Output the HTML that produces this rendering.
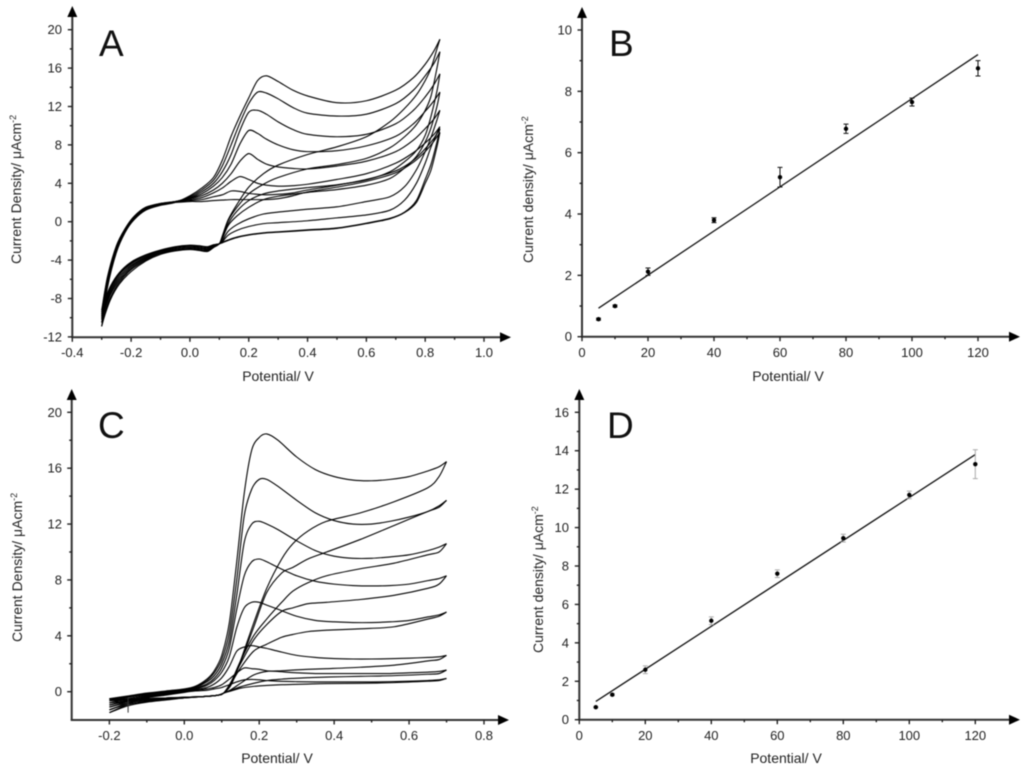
<!DOCTYPE html>
<html>
<head>
<meta charset="utf-8">
<title>Cyclic voltammetry panels</title>
<style>
html,body{margin:0;padding:0;background:#fff;}
svg{display:block;filter:blur(0.4px);}
text{font-family:"Liberation Sans",sans-serif;fill:#222;}
.tick{font-size:13px;}
.axis-label{font-size:14px;}
.panel-letter{font-size:37px;fill:#111;}
</style>
</head>
<body>
<svg id="figure" width="1024" height="770" viewBox="0 0 1024 770" xmlns="http://www.w3.org/2000/svg">
  <rect width="1024" height="770" fill="#fff"/>
  <text class="panel-letter" x="99" y="56">A</text>
  <text class="panel-letter" x="609" y="56">B</text>
  <text class="panel-letter" x="98" y="438">C</text>
  <text class="panel-letter" x="607" y="438">D</text>

  <text class="axis-label" x="278" y="381" text-anchor="middle">Potential/ V</text>
  <text class="axis-label" x="788" y="381" text-anchor="middle">Potential/ V</text>
  <text class="axis-label" x="277" y="763" text-anchor="middle">Potential/ V</text>
  <text class="axis-label" x="786" y="763" text-anchor="middle">Potential/ V</text>

  <text class="axis-label" transform="translate(21,264) rotate(-90)">Current Density/ &#956;Acm<tspan dy="-5" font-size="9">-2</tspan></text>
  <text class="axis-label" transform="translate(533,263) rotate(-90)">Current density/ &#956;Acm<tspan dy="-5" font-size="9">-2</tspan></text>
  <text class="axis-label" transform="translate(22,642) rotate(-90)">Current Density/ &#956;Acm<tspan dy="-5" font-size="9">-2</tspan></text>
  <text class="axis-label" transform="translate(543,653) rotate(-90)">Current density/ &#956;Acm<tspan dy="-5" font-size="9">-2</tspan></text>
</svg>
<script>
/* ---------- Panel A data ---------- */
const aXTickLabels = ["-0.4","-0.2","0.0","0.2","0.4","0.6","0.8","1.0"];
const aYTickLabels = ["-12","-8","-4","0","4","8","12","16","20"];
const aForwardPotential = [-0.3,-0.28,-0.25,-0.22,-0.19,-0.15,-0.1,-0.05,0,0.04,0.08,0.11,0.14,0.17,0.2,0.23,0.26,0.3,0.35,0.4,0.5,0.6,0.7,0.76,0.8,0.83,0.85];
const aForwardCurrent = [
  [-10.9,-6.8,-3.2,-1.1,0.2,1.2,1.7,2.0,2.7,3.5,4.6,6.4,8.9,11.0,12.9,14.7,15.2,14.6,13.7,13.1,12.4,12.6,13.7,15.0,16.4,17.8,19.0],
  [-10.5,-6.6,-3.1,-1.0,0.25,1.25,1.75,2.05,2.6,3.3,4.3,5.8,8.0,10.3,12.3,13.5,13.4,12.8,11.9,11.3,11.0,11.2,12.3,13.7,15.2,16.5,17.7],
  [-10.2,-6.4,-3.0,-0.95,0.3,1.3,1.8,2.1,2.5,3.1,4.0,5.2,7.0,9.5,11.4,11.6,11.2,10.4,9.6,9.1,8.85,9.1,10.2,11.6,13,14.3,15.4],
  [-10,-6.2,-2.9,-0.9,0.35,1.35,1.85,2.1,2.45,2.9,3.7,4.6,6.0,8.1,9.5,9.2,8.6,8.0,7.5,7.3,7.4,7.9,8.9,10.2,11.5,12.6,13.5],
  [-9.8,-6.0,-2.8,-0.85,0.4,1.4,1.85,2.1,2.4,2.7,3.3,4.0,5.0,6.3,7.1,6.5,6.0,5.7,5.55,5.5,5.8,6.3,7.3,8.5,9.7,10.7,11.6],
  [-9.6,-5.9,-2.7,-0.8,0.45,1.45,1.9,2.1,2.3,2.5,3.0,3.5,4.2,4.7,4.4,4.0,3.8,3.7,3.75,3.9,4.4,5.0,6.1,7.2,8.2,9.1,9.9],
  [-9.4,-5.8,-2.6,-0.75,0.5,1.5,1.9,2.05,2.2,2.3,2.6,2.8,3.2,3.15,2.95,2.85,2.8,2.85,3.0,3.3,3.8,4.4,5.3,6.4,7.6,8.7,9.7],
  [-9.2,-5.7,-2.5,-0.7,0.55,1.5,1.85,2.0,2.1,2.1,2.2,2.25,2.3,2.3,2.3,2.3,2.3,2.4,2.7,3.1,3.6,4.2,5.1,6.2,7.3,8.4,9.3]
];
const aReversePotential = [0.85,0.84,0.82,0.8,0.77,0.73,0.68,0.6,0.5,0.4,0.3,0.25,0.2,0.16,0.13,0.11,0.1,0.08,0.06,0.03,0,-0.05,-0.1,-0.15,-0.2,-0.24,-0.27,-0.29,-0.3];
const aReverseCurrent = [
  [19,18,16,14.7,13.2,11.8,10.4,8.85,7.8,7.0,5.9,5.0,3.6,1.8,0.2,-1.5,-2.3,-2.7,-3.1,-3.0,-2.9,-3.05,-3.4,-4.1,-5.2,-6.5,-8.1,-9.8,-10.9],
  [17.7,16,13.1,11.6,10.1,8.85,7.7,6.6,5.95,5.5,4.6,3.9,2.9,1.5,0.1,-1.6,-2.3,-2.65,-3.05,-2.95,-2.85,-3.0,-3.3,-4.0,-5.0,-6.3,-7.9,-9.5,-10.5],
  [15.4,13.6,11,9,7.4,6.25,5.2,4.35,3.85,3.55,3.2,2.9,2.2,1.1,-0.2,-1.7,-2.3,-2.6,-3.0,-2.9,-2.8,-2.95,-3.25,-3.9,-4.85,-6.1,-7.6,-9.2,-10.2],
  [13.5,12,9.8,8.3,6.8,5.6,4.5,3.8,3.35,3.05,2.65,2.3,1.5,0.6,-0.4,-1.8,-2.3,-2.55,-2.9,-2.8,-2.7,-2.85,-3.2,-3.8,-4.7,-5.9,-7.4,-9,-10],
  [11.6,10.6,8.8,7.3,5.4,3.65,2.6,2.1,1.55,1.3,1.0,0.8,0.3,-0.3,-1,-2,-2.3,-2.5,-2.85,-2.75,-2.65,-2.8,-3.1,-3.7,-4.55,-5.7,-7.2,-8.8,-9.8],
  [9.9,9.2,7.8,6.1,4,2.25,1.2,0.7,0.4,0.1,-0.1,-0.2,-0.5,-0.9,-1.4,-2.1,-2.3,-2.45,-2.75,-2.65,-2.55,-2.7,-3.05,-3.6,-4.4,-5.5,-7,-8.6,-9.6],
  [9.7,8.3,6,4.4,2.2,1,0.35,-0.15,-0.65,-0.85,-1.05,-1.15,-1.35,-1.6,-1.9,-2.15,-2.3,-2.42,-2.65,-2.55,-2.5,-2.65,-3.0,-3.5,-4.3,-5.4,-6.8,-8.4,-9.4],
  [9.3,7.8,5.4,4,2,0.95,0.3,-0.2,-0.7,-0.9,-1.1,-1.2,-1.4,-1.65,-1.95,-2.2,-2.3,-2.4,-2.6,-2.5,-2.45,-2.6,-2.95,-3.45,-4.2,-5.3,-6.7,-8.2,-9.2]
];

/* ---------- Panel B data ---------- */
const bXTickLabels = ["0","20","40","60","80","100","120"];
const bYTickLabels = ["0","2","4","6","8","10"];
const bPotential = [5,10,20,40,60,80,100,120];
const bCurrent = [0.57,1.0,2.12,3.8,5.2,6.78,7.65,8.75];
const bError = [0.03,0.03,0.12,0.08,0.32,0.15,0.13,0.25];
const bFitPotential = [5,120];
const bFitCurrent = [0.93,9.2];

/* ---------- Panel C data ---------- */
const cXTickLabels = ["-0.2","0.0","0.2","0.4","0.6","0.8"];
const cYTickLabels = ["0","4","8","12","16","20"];
const cForwardPotential = [-0.2,-0.15,-0.1,-0.05,0,0.03,0.06,0.08,0.1,0.12,0.14,0.16,0.18,0.2,0.22,0.25,0.3,0.35,0.4,0.45,0.5,0.55,0.6,0.65,0.68,0.7];
const cForwardCurrent = [
  [-0.5,-0.3,-0.1,0.05,0.2,0.4,0.9,1.5,2.6,4.9,9.3,14.2,17.3,18.2,18.45,18.0,16.8,15.9,15.4,15.15,15.1,15.2,15.4,15.8,16.1,16.47],
  [-0.55,-0.35,-0.15,0,0.15,0.35,0.8,1.35,2.3,4.2,8,12.6,14.5,15.2,15.2,14.7,13.7,12.8,12.25,12,12,12.2,12.5,12.9,13.3,13.7],
  [-0.65,-0.4,-0.2,-0.05,0.1,0.3,0.7,1.15,2,3.6,6.9,10.7,12,12.2,12,11.6,10.8,10.1,9.7,9.55,9.55,9.65,9.8,10.1,10.35,10.6],
  [-0.8,-0.5,-0.25,-0.1,0.1,0.25,0.55,0.95,1.7,3.1,5.9,8.3,9.3,9.5,9.3,8.9,8.3,7.9,7.7,7.6,7.57,7.6,7.7,7.95,8.1,8.3],
  [-0.95,-0.6,-0.3,-0.1,0.05,0.2,0.45,0.8,1.4,2.5,4.6,6,6.4,6.4,6.2,5.9,5.4,5.1,5,4.95,4.95,5,5.1,5.35,5.5,5.7],
  [-1.1,-0.7,-0.35,-0.15,0,0.15,0.3,0.55,1,1.8,2.9,3.2,3.3,3.2,3.1,2.9,2.6,2.45,2.37,2.34,2.34,2.36,2.4,2.45,2.5,2.6],
  [-1.3,-0.8,-0.4,-0.2,0,0.1,0.2,0.3,0.5,0.9,1.35,1.7,1.65,1.6,1.5,1.45,1.35,1.3,1.3,1.3,1.3,1.3,1.35,1.4,1.45,1.55],
  [-1.5,-0.9,-0.45,-0.25,-0.05,0.05,0.1,0.2,0.3,0.5,0.7,0.85,0.88,0.85,0.8,0.75,0.72,0.7,0.7,0.7,0.7,0.72,0.75,0.8,0.85,0.95]
];
const cReversePotential = [0.7,0.68,0.65,0.56,0.47,0.38,0.33,0.29,0.26,0.22,0.185,0.15,0.125,0.105,0.09,0.05,0,-0.05,-0.1,-0.15,-0.2];
const cReverseCurrent = [
  [16.47,15.4,14.6,13.6,12.8,12.2,11.5,10.6,9.5,7.4,4.9,2.2,0.5,-0.1,-0.25,-0.35,-0.4,-0.45,-0.5,-0.5,-0.5],
  [13.7,13.2,12.9,11.9,10.9,10,9.5,8.9,8.5,7.1,4.6,2.1,0.5,-0.1,-0.25,-0.35,-0.4,-0.45,-0.5,-0.55,-0.55],
  [10.6,10,9.8,9.2,8.8,8.3,7.8,7.2,6.4,5.2,4,2.2,0.7,-0.1,-0.25,-0.35,-0.4,-0.45,-0.5,-0.6,-0.65],
  [8.3,7.7,7.4,6.9,6.6,6.4,6.3,6,5.75,4.8,3.7,2,0.7,-0.1,-0.25,-0.35,-0.4,-0.45,-0.55,-0.65,-0.8],
  [5.7,5.4,5.2,4.65,4.5,4.4,4.3,4.1,3.9,3.4,2.9,1.7,0.6,-0.1,-0.25,-0.35,-0.4,-0.5,-0.6,-0.7,-0.95],
  [2.6,2.3,2.2,1.9,1.75,1.65,1.6,1.55,1.5,1.45,1.2,0.6,0.15,-0.1,-0.25,-0.35,-0.45,-0.5,-0.65,-0.8,-1.1],
  [1.55,1.3,1.25,1.15,1.1,1.05,1,0.95,0.9,0.8,0.6,0.35,0.1,-0.1,-0.25,-0.35,-0.45,-0.55,-0.7,-0.9,-1.3],
  [0.95,0.8,0.75,0.65,0.6,0.58,0.55,0.52,0.5,0.45,0.38,0.25,0.05,-0.1,-0.25,-0.35,-0.45,-0.6,-0.75,-1,-1.5]
];
const cSpikePotential = [-0.15,-0.15];
const cSpikeCurrent = [-0.4,-1.5];

/* ---------- Panel D data ---------- */
const dXTickLabels = ["0","20","40","60","80","100","120"];
const dYTickLabels = ["0","2","4","6","8","10","12","14","16"];
const dPotential = [5,10,20,40,60,80,100,120];
const dCurrent = [0.65,1.3,2.6,5.15,7.6,9.45,11.7,13.3];
const dError = [0.03,0.05,0.2,0.2,0.2,0.2,0.2,0.75];
const dFitPotential = [5,120];
const dFitCurrent = [0.95,13.8];

/* ---------- Helpers ---------- */
const SVG_NS = "http://www.w3.org/2000/svg";
const figure = document.getElementById("figure");
function make(tag, parent) {
  const el = document.createElementNS(SVG_NS, tag);
  parent.appendChild(el);
  return el;
}
function scale(v0, p0, v1, p1) {
  return function (v) { return p0 + (v - v0) * (p1 - p0) / (v1 - v0); };
}
function smoothPath(xs, ys, sx, sy) {
  const pts = xs.map(function (v, i) { return [sx(v), sy(ys[i])]; });
  let d = "M" + pts[0][0].toFixed(2) + " " + pts[0][1].toFixed(2);
  for (let i = 0; i < pts.length - 1; i++) {
    const p0 = pts[Math.max(i - 1, 0)], p1 = pts[i], p2 = pts[i + 1], p3 = pts[Math.min(i + 2, pts.length - 1)];
    const k = 0.15;
    const c1x = p1[0] + (p2[0] - p0[0]) * k, c1y = p1[1] + (p2[1] - p0[1]) * k;
    const c2x = p2[0] - (p3[0] - p1[0]) * k, c2y = p2[1] - (p3[1] - p1[1]) * k;
    d += "C" + c1x.toFixed(2) + " " + c1y.toFixed(2) + " " + c2x.toFixed(2) + " " + c2y.toFixed(2) + " " + p2[0].toFixed(2) + " " + p2[1].toFixed(2);
  }
  return d;
}
function tickLine(parent, x1, y1, x2, y2) {
  const t = make("line", parent);
  
  
  t.setAttribute("x1", x1); t.setAttribute("y1", y1);
  t.setAttribute("x2", x2); t.setAttribute("y2", y2);
  t.setAttribute("stroke", "#222");
  t.setAttribute("stroke-width", "1.4");
}
function drawAxes(parent, sx, sy, xLabels, yLabels, x0, y0, xTip, yTip, labelBaseline, labelRight) {
  const xAxis = make("line", parent);
  
  
  xAxis.setAttribute("x1", x0 - 1); xAxis.setAttribute("y1", y0);
  xAxis.setAttribute("x2", xTip - 6); xAxis.setAttribute("y2", y0);
  xAxis.setAttribute("stroke", "#333"); xAxis.setAttribute("stroke-width", "2");

  const yAxis = make("line", parent);
  
  
  yAxis.setAttribute("x1", x0); yAxis.setAttribute("y1", y0);
  yAxis.setAttribute("x2", x0); yAxis.setAttribute("y2", yTip + 6);
  yAxis.setAttribute("stroke", "#333"); yAxis.setAttribute("stroke-width", "2");

  const xArrow = make("polygon", parent);
  
  
  xArrow.setAttribute("points", (xTip - 11) + "," + (y0 - 5) + " " + xTip + "," + y0 + " " + (xTip - 11) + "," + (y0 + 5));
  xArrow.setAttribute("fill", "#000");

  const yArrow = make("polygon", parent);
  
  
  yArrow.setAttribute("points", (x0 - 5) + "," + (yTip + 11) + " " + x0 + "," + yTip + " " + (x0 + 5) + "," + (yTip + 11));
  yArrow.setAttribute("fill", "#000");

  xLabels.forEach(function (label, i) {
    const v = parseFloat(label), px = sx(v);
    tickLine(parent, px, y0, px, y0 + 4.5);
    if (i < xLabels.length - 1) {
      const m = sx((v + parseFloat(xLabels[i + 1])) / 2);
      tickLine(parent, m, y0, m, y0 + 2.5);
    }
    const t = make("text", parent);
    
    
    t.setAttribute("class", "tick");
    t.setAttribute("x", px);
    t.setAttribute("y", labelBaseline);
    t.setAttribute("text-anchor", "middle");
    t.textContent = label;
  });
  yLabels.forEach(function (label, i) {
    const v = parseFloat(label), py = sy(v);
    tickLine(parent, x0, py, x0 - 4.5, py);
    if (i < yLabels.length - 1) {
      const m = sy((v + parseFloat(yLabels[i + 1])) / 2);
      tickLine(parent, x0, m, x0 - 2.5, m);
    }
    const t = make("text", parent);
    
    
    t.setAttribute("class", "tick");
    t.setAttribute("x", labelRight);
    t.setAttribute("y", py + 4.5);
    t.setAttribute("text-anchor", "end");
    t.textContent = label;
  });
}
function drawCurves(parent, sx, sy, potentials, currents, kind) {
  currents.forEach(function (series) {
    const p = make("path", parent);
    
    
    p.setAttribute("d", smoothPath(potentials, series, sx, sy));
    p.setAttribute("fill", "none");
    p.setAttribute("stroke", "#000");
    p.setAttribute("stroke-width", "1.1");
    p.setAttribute("stroke-linejoin", "round");
  });
}
function drawScatter(parent, sx, sy, xs, ys, errs, fitX, fitY, errColor) {
  const fit = make("line", parent);
  
  
  fit.setAttribute("x1", sx(fitX[0])); fit.setAttribute("y1", sy(fitY[0]));
  fit.setAttribute("x2", sx(fitX[1])); fit.setAttribute("y2", sy(fitY[1]));
  fit.setAttribute("stroke", "#111"); fit.setAttribute("stroke-width", "1.3");

  xs.forEach(function (xv, i) {
    const px = sx(xv), top = sy(ys[i] + errs[i]), bot = sy(ys[i] - errs[i]);
    const bar = make("path", parent);
    
    
    bar.setAttribute("d", "M" + (px - 2.5) + " " + top + "H" + (px + 2.5) + "M" + px + " " + top + "V" + bot + "M" + (px - 2.5) + " " + bot + "H" + (px + 2.5));
    bar.setAttribute("fill", "none");
    bar.setAttribute("stroke", errColor);
    bar.setAttribute("stroke-width", "1");

    const dot = make("circle", parent);
    
    
    dot.setAttribute("cx", px);
    dot.setAttribute("cy", sy(ys[i]));
    dot.setAttribute("r", "2.2");
    dot.setAttribute("fill", "#000");
  });
}

/* ---------- Panel A ---------- */
const panelA = make("g", figure);


const ax = scale(-0.4, 72.3, 1.0, 484);
const ay = scale(0, 221.7, 20, 29.7);
drawAxes(panelA, ax, ay, aXTickLabels, aYTickLabels, 72.3, 337.3, 511, 6, 357, 62);
drawCurves(panelA, ax, ay, aForwardPotential, aForwardCurrent, "forward-scan-curve");
drawCurves(panelA, ax, ay, aReversePotential, aReverseCurrent, "reverse-scan-curve");

/* ---------- Panel B ---------- */
const panelB = make("g", figure);


const bx = scale(0, 582, 120, 978);
const by = scale(0, 336.7, 10, 30);
drawAxes(panelB, bx, by, bXTickLabels, bYTickLabels, 582, 336.7, 1020, 7, 357, 572);
drawScatter(panelB, bx, by, bPotential, bCurrent, bError, bFitPotential, bFitCurrent, "#111");

/* ---------- Panel C ---------- */
const panelC = make("g", figure);


const cx = scale(0, 184.3, 0.8, 484);
const cy = scale(0, 691.7, 20, 412.3);
drawAxes(panelC, cx, cy, cXTickLabels, cYTickLabels, 71.7, 720, 509, 389, 740, 62);
drawCurves(panelC, cx, cy, cForwardPotential, cForwardCurrent, "forward-scan-curve");
drawCurves(panelC, cx, cy, cReversePotential, cReverseCurrent, "reverse-scan-curve");
const spike = make("line", panelC);


spike.setAttribute("x1", cx(cSpikePotential[0])); spike.setAttribute("y1", cy(cSpikeCurrent[0]));
spike.setAttribute("x2", cx(cSpikePotential[1])); spike.setAttribute("y2", cy(cSpikeCurrent[1]));
spike.setAttribute("stroke", "#333"); spike.setAttribute("stroke-width", "1");

/* ---------- Panel D ---------- */
const panelD = make("g", figure);


const dx = scale(0, 579.3, 120, 975.3);
const dy = scale(0, 719.7, 16, 412.3);
drawAxes(panelD, dx, dy, dXTickLabels, dYTickLabels, 579.3, 719.7, 1020, 389, 740, 569);
drawScatter(panelD, dx, dy, dPotential, dCurrent, dError, dFitPotential, dFitCurrent, "#aaa");
</script>
</body>
</html>
